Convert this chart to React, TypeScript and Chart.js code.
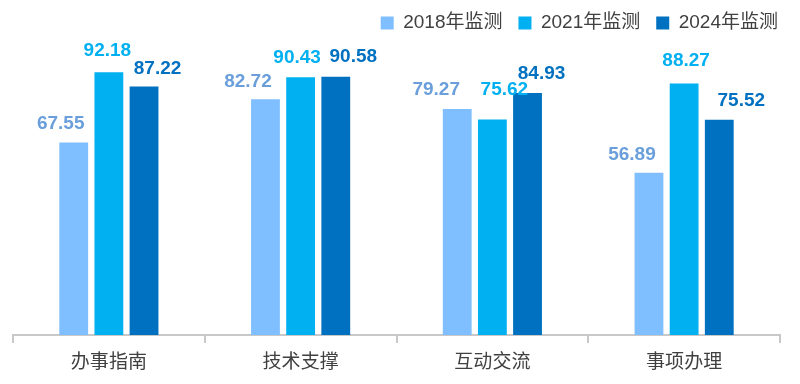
import React, { useEffect, useRef } from 'react';
import { Chart, registerables } from 'chart.js';

Chart.register(...registerables);

const categories = ['办事指南', '技术支撑', '互动交流', '事项办理'];
const seriesNames = ['2018年监测', '2021年监测', '2024年监测'];
const values2018 = [67.55, 82.72, 79.27, 56.89];
const values2021 = [92.18, 90.43, 75.62, 88.27];
const values2024 = [87.22, 90.58, 84.93, 75.52];

const barColors = ['#80BFFF', '#00B0F0', '#0070C0'];
const labelColors = ['#6A9FDB', '#00B0F0', '#0070C0'];
// label nudges (px) relative to each bar's centre / top, as placed in the original
const labelDx = [
  [-13, -17.5, -21, -17],
  [-1.5, -3.5, 12, 2],
  [13.5, 17.5, 14, 22],
];
const labelGap = [
  [13.5, 12.7, 14, 12.7],
  [16.7, 14.5, 24, 17],
  [12.6, 14.5, 13.6, 13.5],
];
const FONT = '"Liberation Sans", "Noto Sans CJK SC", sans-serif';

const valueLabels = {
  id: 'valueLabels',
  afterDatasetsDraw(chart: any) {
    const ctx = chart.ctx;
    ctx.save();
    ctx.font = `bold 19px ${FONT}`;
    ctx.textAlign = 'center';
    ctx.textBaseline = 'alphabetic';
    chart.data.datasets.forEach((ds: any, i: number) => {
      const meta = chart.getDatasetMeta(i);
      meta.data.forEach((el: any, j: number) => {
        const v = ds.data[j] as number;
        ctx.fillStyle = labelColors[i];
        ctx.fillText(v.toFixed(2), el.x + labelDx[i][j], el.y - labelGap[i][j]);
      });
    });
    ctx.restore();
  },
};

const legendTweak = {
  id: 'legendTweak',
  afterInit(chart: any) {
    const lg = chart.legend;
    if (!lg || lg.__patched) return;
    const orig = lg.fit.bind(lg);
    lg.fit = function () {
      orig();
      this.height += 7.5;
    };
    lg.__patched = true;
  },
};

export default function App() {
  const ref = useRef<HTMLCanvasElement | null>(null);

  useEffect(() => {
    if (!ref.current) return;
    const seriesValues = [values2018, values2021, values2024];
    const chart = new Chart(ref.current, {
      type: 'bar',
      data: {
        labels: categories,
        datasets: seriesValues.map((vals, i) => ({
          label: seriesNames[i],
          data: vals,
          backgroundColor: barColors[i],
          borderWidth: 0,
          categoryPercentage: 0.55,
          barPercentage: 0.82,
        })),
      },
      options: {
        responsive: false,
        animation: false,
        layout: { padding: { top: -2.5, left: 13, right: 6, bottom: 1.2 } },
        plugins: {
          legend: {
            display: true,
            position: 'top',
            align: 'end',
            labels: {
              boxWidth: 13,
              boxHeight: 13,
              padding: 16,
              color: '#404040',
              font: { size: 19, family: FONT },
            },
          },
          tooltip: { enabled: false },
        },
        scales: {
          x: {
            grid: {
              display: true,
              drawOnChartArea: false,
              drawTicks: true,
              tickLength: 8,
              color: '#C8C8C8',
              lineWidth: 2,
              offset: true,
            },
            border: { display: true, color: '#C8C8C8', width: 2 },
            ticks: {
              color: '#404040',
              padding: 8.5,
              font: { size: 19, family: FONT },
            },
          },
          y: {
            display: true,
            position: 'right',
            min: 0,
            max: 100,
            grid: { display: false },
            border: { display: false },
            ticks: { display: false },
            afterFit(scale: any) {
              scale.width = 14;
            },
          },
        },
      },
      plugins: [valueLabels, legendTweak],
    });
    return () => chart.destroy();
  }, []);

  return (
    <div style={{ position: 'absolute', left: 0, top: 0, width: 800, height: 384, background: '#fff' }}>
      <canvas ref={ref} width={800} height={384} style={{ display: 'block' }} />
    </div>
  );
}
